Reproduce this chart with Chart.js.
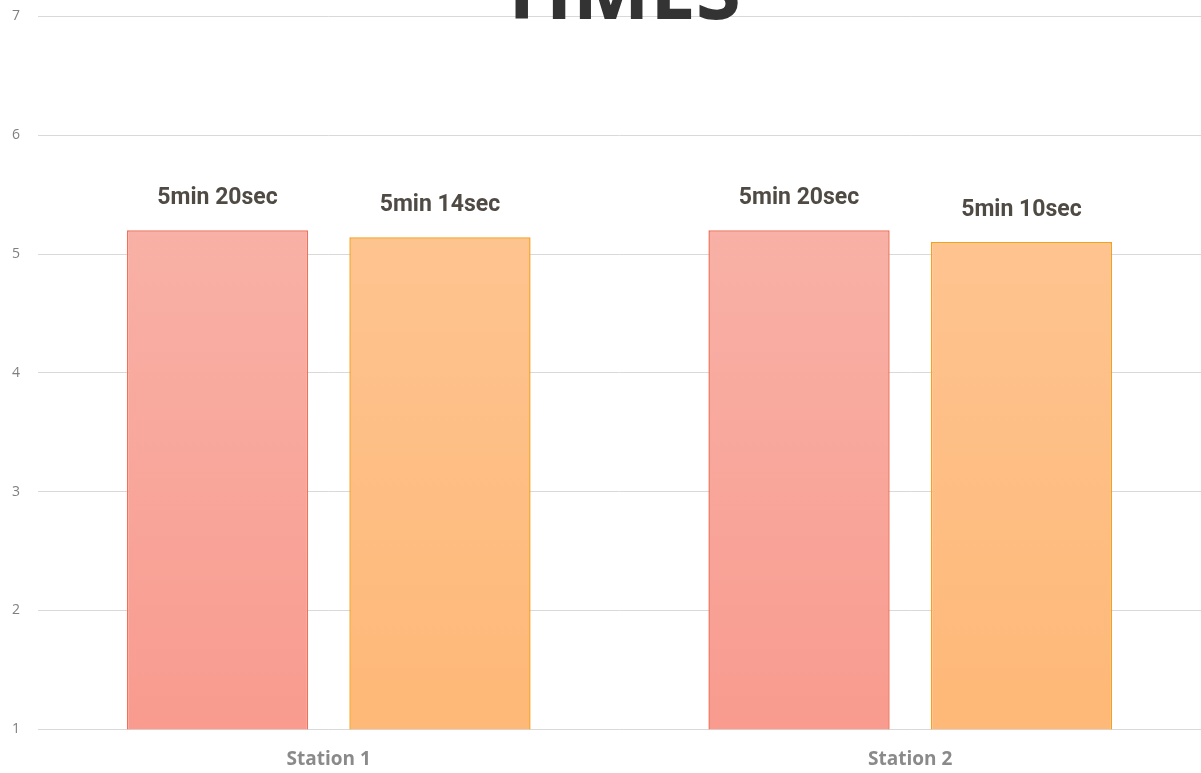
<!DOCTYPE html>
<html>
<head>
<meta charset="utf-8">
<script src="https://cdn.jsdelivr.net/npm/chart.js@4"></script>
<style>
  html, body { margin: 0; padding: 0; background: #fff; }
  #wrap { width: 1201px; height: 773px; }
</style>
</head>
<body>
<div id="wrap"><canvas id="timesChart" width="1201" height="773"></canvas></div>
<script>
// chart data
const stations = ['Station 1', 'Station 2'];
const runA = [5.2, 5.2];
const runB = [5.14, 5.1];
const runALabels = ['5min 20sec', '5min 20sec'];
const runBLabels = ['5min 14sec', '5min 10sec'];
const yTicks = [1, 2, 3, 4, 5, 6, 7];

function barGradient(top, bottom) {
    return function(ctx) {
        const chart = ctx.chart;
        const area = chart.chartArea;
        if (!area) return top;
        const g = chart.ctx.createLinearGradient(0, area.top, 0, area.bottom);
        g.addColorStop(0, top);
        g.addColorStop(1, bottom);
        return g;
    };
}

// value labels above each bar
const valueLabels = {
    id: 'valueLabels',
    afterDatasetsDraw(chart) {
        const ctx = chart.ctx;
        const texts = [runALabels, runBLabels];
        ctx.save();
        ctx.font = 'bold 23px Roboto';
        ctx.fillStyle = '#4f4a44';
        ctx.textAlign = 'center';
        ctx.textBaseline = 'middle';
        chart.data.datasets.forEach((ds, i) => {
            chart.getDatasetMeta(i).data.forEach((bar, j) => {
                ctx.fillText(texts[i][j], bar.x, bar.y - 32);
            });
        });
        ctx.restore();
    }
};

// big title, mostly cut off at the top edge
const bigTitle = {
    id: 'bigTitle',
    afterDraw(chart) {
        const ctx = chart.ctx;
        const area = chart.chartArea;
        ctx.save();
        ctx.font = 'bold 82px "Open Sans"';
        ctx.fillStyle = '#333333';
        ctx.textAlign = 'center';
        ctx.textBaseline = 'alphabetic';
        ctx.fillText('TIMES', (area.left + area.right) / 2, 19);
        ctx.restore();
    }
};

new Chart(document.getElementById('timesChart'), {
    type: 'bar',
    data: {
        labels: stations,
        datasets: [{
            data: runA,
            backgroundColor: barGradient('#f8bab0', '#f99b8f'),
            borderColor: '#f07058',
            borderWidth: 1.5,
            categoryPercentage: 0.765,
            barPercentage: 0.815
        }, {
            data: runB,
            backgroundColor: barGradient('#fec99b', '#feb877'),
            borderColor: '#f5a020',
            borderWidth: 1.5,
            categoryPercentage: 0.765,
            barPercentage: 0.815
        }]
    },
    options: {
        responsive: false,
        animation: false,
        layout: { padding: { top: 0, right: 0, left: 12, bottom: -9 } },
        plugins: {
            legend: { display: false },
            tooltip: { enabled: false }
        },
        scales: {
            x: {
                grid: { display: false },
                border: { display: false },
                ticks: {
                    color: '#8a8a8a',
                    font: { family: 'Open Sans', size: 19, weight: 'bold' },
                    padding: 11
                }
            },
            y: {
                min: yTicks[0],
                max: yTicks[yTicks.length - 1],
                afterBuildTicks(axis) {
                    axis.ticks = yTicks.map(v => ({ value: v }));
                },
                afterFit(axis) {
                    axis.width = 26;
                },
                grid: { color: '#d9d9d9', drawTicks: false },
                border: { display: false },
                ticks: {
                    color: '#7f7f7f',
                    font: { family: 'Open Sans', size: 14 },
                    padding: 8,
                    crossAlign: 'far'
                }
            }
        }
    },
    plugins: [valueLabels, bigTitle]
});
</script>
</body>
</html>
